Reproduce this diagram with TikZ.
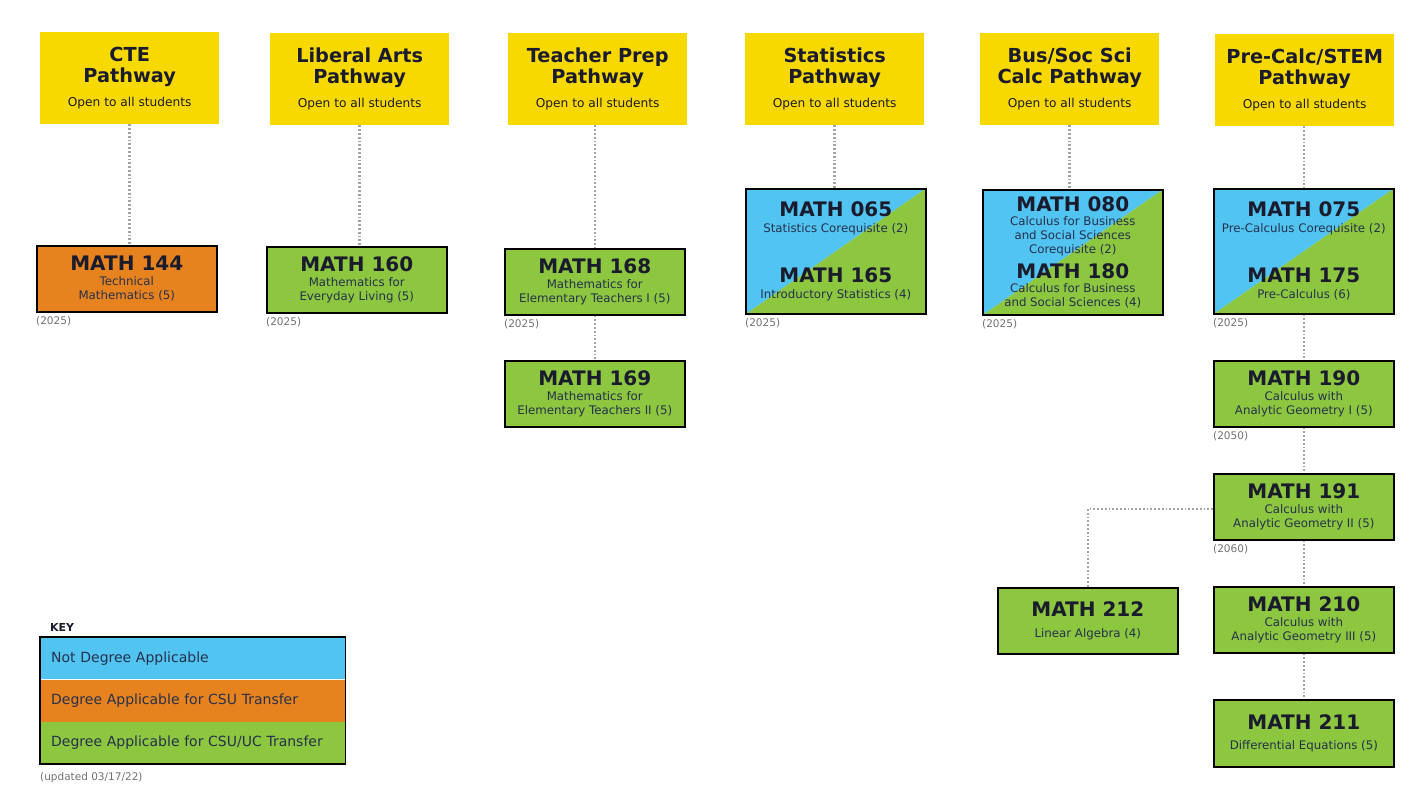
\documentclass[tikz,border=0pt]{standalone}
\usepackage{fontspec}
\setmainfont{DejaVu Sans}
\usetikzlibrary{backgrounds}
\definecolor{yel}{HTML}{F7D900}
\definecolor{org}{HTML}{E7831F}
\definecolor{grn}{HTML}{8DC63F}
\definecolor{blu}{HTML}{52C4F1}
\definecolor{ink}{HTML}{1B1B2E}
\definecolor{subink}{HTML}{26304D}
\definecolor{dotc}{HTML}{A4A4A4}
\definecolor{yearc}{HTML}{707070}
\newcommand\mhead{\fontsize{19.3}{21}\selectfont\bfseries}
\newcommand\mtitle{\fontsize{20}{21}\selectfont\bfseries\color{ink}}
\newcommand\msub{\fontsize{11.8}{14}\selectfont}
\newcommand\mopen{\fontsize{12.2}{14}\selectfont\mdseries}
\begin{document}
\begin{tikzpicture}[x=1pt,y=-1pt,
 pathbox/.style={fill=yel, minimum width=179pt, minimum height=92pt, inner sep=0pt, anchor=north west, align=center, text=ink, font=\mhead},
 course/.style={draw=black, line width=1.6pt, minimum width=180pt, minimum height=66pt, inner sep=0pt, anchor=north west, align=center, font=\msub, text=subink},
 tall/.style={course, minimum height=125pt},
 conn/.style={draw=dotc, line width=2.6pt, dash pattern=on 1.8pt off 2pt},
 year/.style={anchor=north west, inner sep=0pt, font=\fontsize{10.5}{12}\selectfont, text=yearc},
 band/.style={minimum width=305pt, text width=283pt, inner xsep=11pt, minimum height=42pt, inner ysep=0pt, anchor=north west, align=left, font=\fontsize{14}{16}\selectfont, text=subink}
]
\useasboundingbox (0,0) rectangle (1418,785);

% pathway headers
\node[pathbox] (cte) at (40,32) {CTE\\Pathway\\[3pt]{\mopen Open to all students}};
\node[pathbox] (la) at (270,33) {Liberal Arts\\Pathway\\[3pt]{\mopen Open to all students}};
\node[pathbox] (tp) at (508,33) {Teacher Prep\\Pathway\\[3pt]{\mopen Open to all students}};
\node[pathbox] (st) at (745,33) {Statistics\\Pathway\\[3pt]{\mopen Open to all students}};
\node[pathbox] (bus) at (980,33) {Bus/Soc Sci\\Calc Pathway\\[3pt]{\mopen Open to all students}};
\node[pathbox] (pc) at (1215,34) {Pre-Calc/STEM\\Pathway\\[3pt]{\mopen Open to all students}};

% course boxes
\node[course, fill=org] (m144) at (36,245) {{\mtitle MATH 144}\\[1pt]Technical\\Mathematics (5)};
\node[course, fill=grn] (m160) at (266,246) {{\mtitle MATH 160}\\[1pt]Mathematics for\\Everyday Living (5)};
\node[course, fill=grn] (m168) at (504,248) {{\mtitle MATH 168}\\[1pt]Mathematics for\\Elementary Teachers I (5)};
\node[course, fill=grn] (m169) at (504,360) {{\mtitle MATH 169}\\[1pt]Mathematics for\\Elementary Teachers II (5)};
\node[tall] (m065) at (745,188) {{\mtitle MATH 065}\\[2pt]Statistics Corequisite (2)\\[32pt]{\mtitle MATH 165}\\[2pt]Introductory Statistics (4)};
\node[tall] (m080) at (982,189) {{\mtitle MATH 080}\\[0pt]Calculus for Business\\and Social Sciences\\Corequisite (2)\\[7pt]{\mtitle MATH 180}\\[0pt]Calculus for Business\\and Social Sciences (4)};
\node[tall] (m075) at (1213,188) {{\mtitle MATH 075}\\[2pt]Pre-Calculus Corequisite (2)\\[32pt]{\mtitle MATH 175}\\[2pt]Pre-Calculus (6)};
\node[course, fill=grn] (m190) at (1213,360) {{\mtitle MATH 190}\\[1pt]Calculus with\\Analytic Geometry I (5)};
\node[course, fill=grn] (m191) at (1213,473) {{\mtitle MATH 191}\\[1pt]Calculus with\\Analytic Geometry II (5)};
\node[course, fill=grn] (m210) at (1213,586) {{\mtitle MATH 210}\\[1pt]Calculus with\\Analytic Geometry III (5)};
\node[course, fill=grn, minimum height=67pt] (m211) at (1213,699) {{\mtitle MATH 211}\\[6pt]Differential Equations (5)};
\node[course, fill=grn] (m212) at (997,587) {{\mtitle MATH 212}\\[7pt]Linear Algebra (4)};

% split fills
\begin{scope}[on background layer]
\foreach \n in {m065,m080,m075}{
  \fill[blu] (\n.south west) -- (\n.north east) -- (\n.north west) -- cycle;
  \fill[grn] (\n.south west) -- (\n.north east) -- (\n.south east) -- cycle;
}
\end{scope}

% year labels
\node[year] (y144) at (m144.south west) [yshift=-4pt] {(2025)};
\node[year] (y160) at (m160.south west) [yshift=-4pt] {(2025)};
\node[year] (y168) at (m168.south west) [yshift=-4pt] {(2025)};
\node[year] (y065) at (m065.south west) [yshift=-4pt] {(2025)};
\node[year] (y080) at (m080.south west) [yshift=-4pt] {(2025)};
\node[year] (y075) at (m075.south west) [yshift=-4pt] {(2025)};
\node[year] (y190) at (m190.south west) [yshift=-4pt] {(2050)};
\node[year] (y191) at (m191.south west) [yshift=-4pt] {(2060)};

% connectors
\draw[conn] (cte.south) -- (cte.south |- m144.north);
\draw[conn] (la.south) -- (la.south |- m160.north);
\draw[conn] (m168.north |- tp.south) -- (m168.north);
\draw[conn] (m168.south) -- (m169.north);
\draw[conn] (st.south) -- (st.south |- m065.north);
\draw[conn] (bus.south) -- (bus.south |- m080.north);
\draw[conn] (m075.north |- pc.south) -- (m075.north);
\draw[conn] (m075.south) -- (m190.north);
\draw[conn] (m190.south) -- (m191.north);
\draw[conn] (m191.south) -- (m210.north);
\draw[conn] (m210.south) -- (m211.north);
\draw[conn] ([yshift=-2pt]m191.west) -| (m212.north);

% key
\node[anchor=west, inner sep=0pt, font=\fontsize{11}{13}\selectfont\bfseries, text=ink] (keyl) at (50,627) {KEY};
\node[band, fill=blu] (k1) at (40,637) {Not Degree Applicable};
\node[band, fill=org] (k2) at (k1.south west) {Degree Applicable for CSU Transfer};
\node[band, fill=grn] (k3) at (k2.south west) {Degree Applicable for CSU/UC Transfer};
\draw[line width=1.5pt] (k1.north west) rectangle (k3.south east);
\node[anchor=west, inner sep=0pt, font=\fontsize{10.5}{12}\selectfont, text=yearc] (upd) at (40,778) {(updated 03/17/22)};
\end{tikzpicture}
\end{document}
